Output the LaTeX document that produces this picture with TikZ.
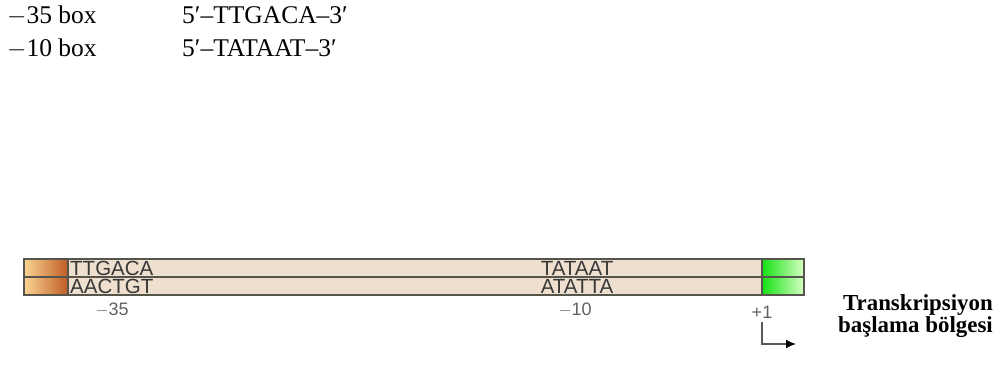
\documentclass[tikz,border=0pt]{standalone}
\usepackage{fontspec}
\setmainfont{Liberation Serif}
\setsansfont{Liberation Sans}
\usetikzlibrary{arrows.meta,positioning,calc}
\definecolor{barfill}{RGB}{238,223,206}
\definecolor{barline}{RGB}{85,85,75}
\definecolor{orgL}{RGB}{250,212,145}
\definecolor{orgR}{RGB}{192,92,40}
\definecolor{grnL}{RGB}{20,225,20}
\definecolor{grnR}{RGB}{215,255,195}
\tikzset{
  boxlbl/.style ={font=\fontsize{25.5}{25.5}\selectfont,anchor=base west,inner sep=0pt},
  seq/.style    ={font=\sffamily\fontsize{20.5}{20.5}\selectfont,text=black!78,inner sep=0pt,anchor=base},
  poslbl/.style ={font=\sffamily\fontsize{18}{18}\selectfont,text=black!62,inner sep=0pt,anchor=base},
  site/.style   ={font=\bfseries\fontsize{22.9}{21.5}\selectfont,align=right,inner sep=0pt,anchor=base east},
  strand/.style ={draw=barline,line width=1.2pt},
  startarrow/.style={draw=black!65,line width=1.6pt,-{Latex[length=10pt,width=9pt,fill=black,color=black]}},
}
\begin{document}
\begin{tikzpicture}[x=1pt,y=-1pt]
  \useasboundingbox (0,0) rectangle (996,366);
  % consensus boxes
  \node[boxlbl] (b35)  at (7,24) {$-$35 box};
  \node[boxlbl] (s35)  at (182,24) {5′–TTGACA–3′};
  \node[boxlbl] (b10)  at (7,57) {$-$10 box};
  \node[boxlbl] (s10)  at (182,57) {5′–TATAAT–3′};
  % double strand
  \fill[barfill] (24,259) rectangle (804,295);
  \shade[left color=orgL,right color=orgR] (24,259) rectangle (68,295);
  \shade[left color=grnL,right color=grnR] (762,259) rectangle (804,295);
  \draw[strand] (24,259) rectangle (804,295);
  \draw[strand] (24,277) -- (804,277);
  \draw[strand] (68,259) -- (68,295);
  \draw[strand] (762,259) -- (762,295);
  % sequences
  \node[seq,anchor=base west] (t35) at (70,275) {TTGACA};
  \node[seq,anchor=base west] (a35) at (70,293) {AACTGT};
  \node[seq] (t10) at (577,275) {TATAAT};
  \node[seq] (a10) at (577,293) {ATATTA};
  % positions
  \node[poslbl] (m35) at (112,315) {$-$35};
  \node[poslbl] (m10) at (575,315) {$-$10};
  \node[poslbl] (p1)  at (762,318) {+1};
  \coordinate (up)   at (762,322);
  \coordinate (bend) at (762,344);
  \coordinate (tip)  at (796,344);
  \draw[startarrow] (up) -- (bend) -- (tip);
  \node[site] (tss) at (993,332) {Transkripsiyon\\başlama bölgesi};
\end{tikzpicture}
\end{document}
